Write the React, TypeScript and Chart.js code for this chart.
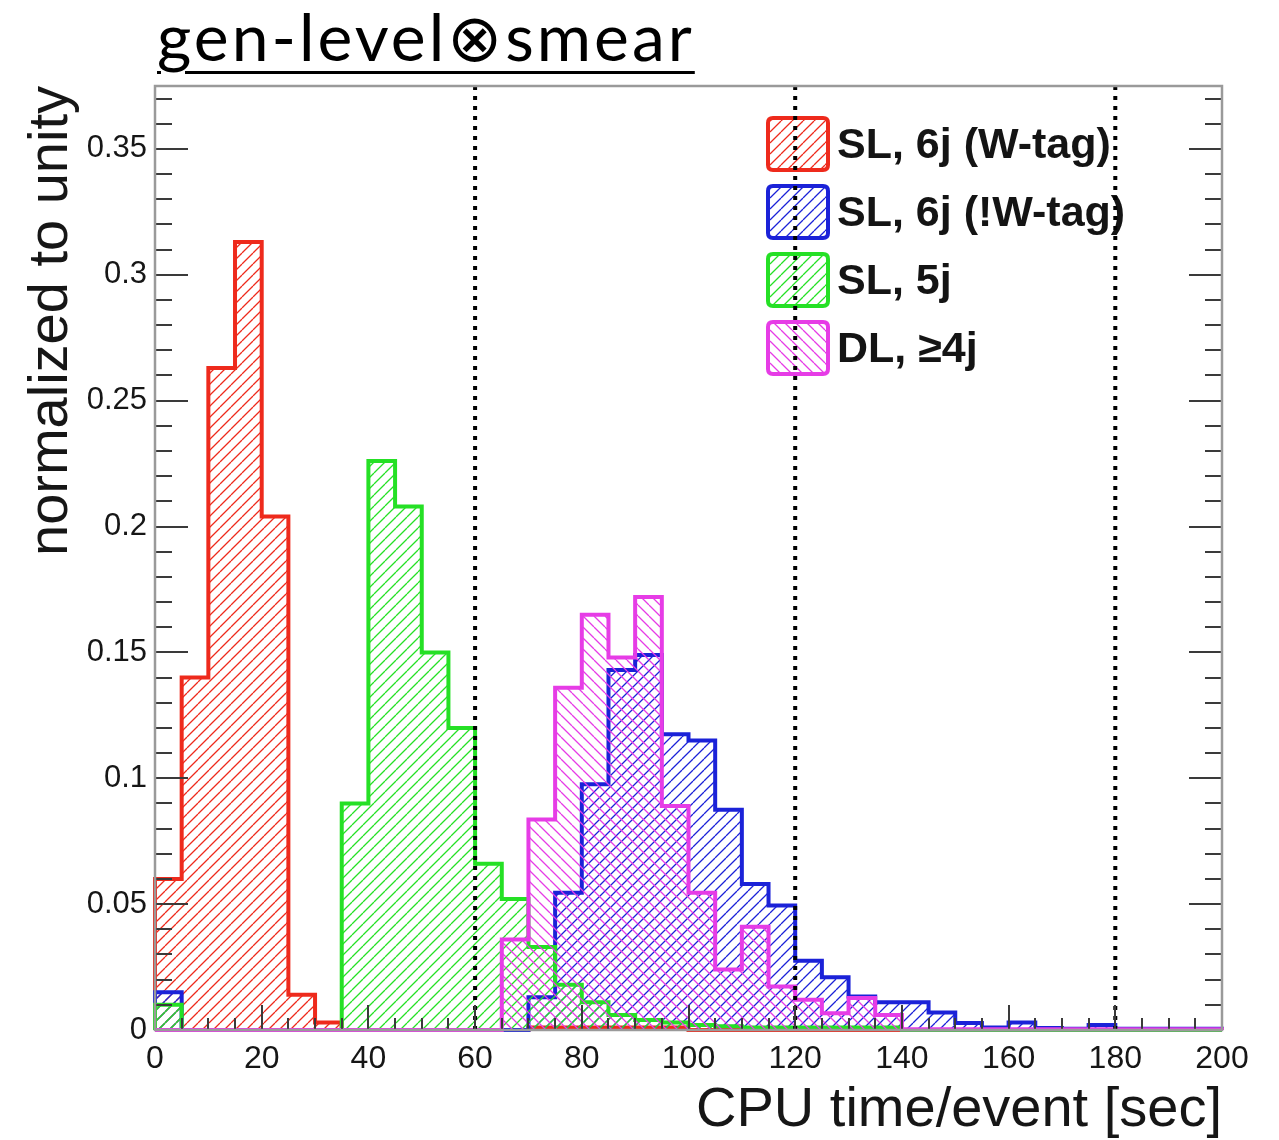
import React, { useEffect, useRef } from 'react';
import { Chart, registerables } from 'chart.js';

Chart.register(...registerables);

// ---- data ----
const BIN_WIDTH = 5;
const X_MIN = 0;
const X_MAX = 200;
const Y_MAX = 0.375;

const seriesLabels = ['SL, 6j (W-tag)', 'SL, 6j (!W-tag)', 'SL, 5j', 'DL, \u22654j'];
const seriesColors = ['#ee2a1c', '#1b22d8', '#25e025', '#e63ce6'];
const hatchDirs = ['/', '/', '/', '\\'];

// 40 bins of 5 s each, 0..200
const sl6jWtag = [
  0.06, 0.14, 0.263, 0.313, 0.204, 0.014, 0.003, 0, 0, 0,
  0, 0, 0, 0, 0.001, 0.001, 0.001, 0.001, 0.001, 0.001,
  0, 0, 0, 0, 0, 0, 0, 0, 0, 0,
  0, 0, 0, 0, 0, 0, 0, 0, 0, 0,
];
const sl6jNoWtag = [
  0.015, 0, 0, 0, 0, 0, 0, 0, 0, 0,
  0, 0, 0, 0, 0.013, 0.0545, 0.0976, 0.143, 0.149, 0.1175,
  0.115, 0.0875, 0.058, 0.0495, 0.0275, 0.021, 0.0133, 0.011, 0.011, 0.007,
  0.0028, 0.001, 0.003, 0.0008, 0.0005, 0.002, 0.0005, 0.0005, 0.0005, 0.0005,
];
const sl5j = [
  0.01, 0, 0, 0, 0, 0, 0, 0.09, 0.226, 0.208,
  0.15, 0.12, 0.066, 0.052, 0.033, 0.018, 0.011, 0.006, 0.004, 0.003,
  0.002, 0.0015, 0.001, 0.001, 0.001, 0.001, 0.001, 0.001, 0, 0,
  0, 0, 0, 0, 0, 0, 0, 0, 0, 0,
];
const dl4j = [
  0, 0, 0, 0, 0, 0, 0, 0, 0, 0,
  0, 0, 0, 0.036, 0.0836, 0.136, 0.165, 0.148, 0.172, 0.089,
  0.0545, 0.024, 0.041, 0.0173, 0.012, 0.0067, 0.0127, 0.006, 0.0003, 0.0003,
  0.0003, 0.0003, 0.0003, 0.0003, 0.0003, 0.0003, 0.0003, 0.0003, 0.0003, 0.0003,
];
const seriesValues = [sl6jWtag, sl6jNoWtag, sl5j, dl4j];

const cutLines = [60, 120, 180];
const xTickValues = [0, 20, 40, 60, 80, 100, 120, 140, 160, 180, 200];
const yTickValues = [0, 0.05, 0.1, 0.15, 0.2, 0.25, 0.3, 0.35];
const yTickLabels = ['0', '0.05', '0.1', '0.15', '0.2', '0.25', '0.3', '0.35'];
const X_MINOR_STEP = 5;
const Y_MINOR_STEP = 0.01;

const FONT = "'Liberation Sans', Arial, Helvetica, sans-serif";

function makeHatch(color: string, dir: string, size = 11, lw = 1.3) {
  const c = document.createElement('canvas');
  c.width = size;
  c.height = size;
  const g = c.getContext('2d')!;
  g.strokeStyle = color;
  g.lineWidth = lw;
  g.beginPath();
  for (let k = -1; k <= 1; k++) {
    if (dir === '/') {
      g.moveTo(k * size, size);
      g.lineTo(k * size + size, 0);
    } else {
      g.moveTo(k * size, 0);
      g.lineTo(k * size + size, size);
    }
  }
  g.stroke();
  return g.createPattern(c, 'repeat')!;
}

function histPoints(values: number[]) {
  const pts: { x: number; y: number }[] = [{ x: X_MIN, y: 0 }];
  values.forEach((v, i) => pts.push({ x: X_MIN + i * BIN_WIDTH, y: v }));
  pts.push({ x: X_MAX, y: values[values.length - 1] });
  pts.push({ x: X_MAX, y: 0 });
  return pts;
}

const frameTicksPlugin = {
  id: 'frameTicks',
  afterDatasetsDraw(chart: any) {
    const { ctx, chartArea: a, scales } = chart;
    const xs = scales.x;
    const ys = scales.y;
    ctx.save();
    ctx.strokeStyle = '#3a3a3a';
    ctx.lineWidth = 2;
    ctx.beginPath();
    for (let v = X_MIN; v <= X_MAX + 1e-9; v += X_MINOR_STEP) {
      const px = Math.round(xs.getPixelForValue(v));
      const major = xTickValues.some((t) => Math.abs(t - v) < 1e-6);
      const len = major ? 25 : 12;
      ctx.moveTo(px, a.bottom);
      ctx.lineTo(px, a.bottom - len);
    }
    const nMinor = Math.floor(Y_MAX / Y_MINOR_STEP + 1e-9);
    for (let k = 0; k <= nMinor; k++) {
      const v = k * Y_MINOR_STEP;
      const py = Math.round(ys.getPixelForValue(v));
      const major = yTickValues.some((t) => Math.abs(t - v) < 1e-6);
      const len = major ? 33 : 17;
      ctx.moveTo(a.left, py);
      ctx.lineTo(a.left + len, py);
      ctx.moveTo(a.right, py);
      ctx.lineTo(a.right - len, py);
    }
    ctx.stroke();
    ctx.strokeStyle = '#9a9a9a';
    ctx.lineWidth = 2.5;
    ctx.strokeRect(a.left, a.top, a.right - a.left, a.bottom - a.top);
    ctx.restore();
  },
};

const legendPlugin = {
  id: 'rootLegend',
  beforeDatasetsDraw(chart: any) {
    const { ctx, chartArea: a } = chart;
    const boxW = 60;
    const boxH = 52;
    const gap = 68;
    const left = a.right - 454;
    const top0 = a.top + 32;
    ctx.save();
    seriesLabels.forEach((label, i) => {
      const top = top0 + i * gap;
      const pat = makeHatch(seriesColors[i], hatchDirs[i]);
      ctx.beginPath();
      const r = 5;
      ctx.moveTo(left + r, top);
      ctx.lineTo(left + boxW - r, top);
      ctx.quadraticCurveTo(left + boxW, top, left + boxW, top + r);
      ctx.lineTo(left + boxW, top + boxH - r);
      ctx.quadraticCurveTo(left + boxW, top + boxH, left + boxW - r, top + boxH);
      ctx.lineTo(left + r, top + boxH);
      ctx.quadraticCurveTo(left, top + boxH, left, top + boxH - r);
      ctx.lineTo(left, top + r);
      ctx.quadraticCurveTo(left, top, left + r, top);
      ctx.closePath();
      ctx.fillStyle = pat;
      ctx.fill();
      ctx.strokeStyle = seriesColors[i];
      ctx.lineWidth = 4;
      ctx.stroke();
      ctx.fillStyle = '#141414';
      ctx.font = `bold 43px ${FONT}`;
      ctx.textAlign = 'left';
      ctx.textBaseline = 'middle';
      ctx.fillText(label, left + boxW + 9, top + boxH / 2 + 2);
    });
    ctx.restore();
  },
};

export default function App() {
  const canvasRef = useRef<HTMLCanvasElement | null>(null);

  useEffect(() => {
    const canvas = canvasRef.current;
    if (!canvas) return;
    const n = seriesLabels.length;
    const histDatasets = seriesValues.map((vals, i) => ({
      type: 'line' as const,
      label: seriesLabels[i],
      data: histPoints(vals),
      stepped: 'before' as const,
      borderColor: seriesColors[i],
      borderWidth: 4,
      borderJoinStyle: 'miter' as const,
      backgroundColor: makeHatch(seriesColors[i], hatchDirs[i]),
      fill: 'origin',
      pointRadius: 0,
      tension: 0,
      clip: 6,
      order: n - i,
    }));
    const cutDatasets = cutLines.map((x) => ({
      type: 'line' as const,
      label: `cut ${x}`,
      data: [
        { x, y: 0 },
        { x, y: Y_MAX },
      ],
      borderColor: '#000000',
      borderWidth: 4,
      borderDash: [4, 6],
      fill: false,
      pointRadius: 0,
      order: 0,
    }));

    const chart = new Chart(canvas, {
      type: 'line',
      data: { datasets: [...histDatasets, ...cutDatasets] as any },
      options: {
        responsive: false,
        animation: false,
        devicePixelRatio: 1,
        layout: { padding: { top: 86, right: 57, left: 0, bottom: 0 } },
        plugins: {
          legend: { display: false },
          tooltip: { enabled: false },
        },
        scales: {
          x: {
            type: 'linear',
            min: X_MIN,
            max: X_MAX,
            afterFit: (s: any) => {
              s.height = 110;
            },
            afterBuildTicks: (s: any) => {
              s.ticks = xTickValues.map((v) => ({ value: v }));
            },
            grid: { display: false },
            border: { display: false },
            ticks: {
              autoSkip: false,
              maxRotation: 0,
              padding: 2,
              color: '#161616',
              font: { size: 32, family: FONT },
              callback: (v: any) => String(v),
            },
            title: {
              display: true,
              text: 'CPU time/event [sec]',
              align: 'end',
              color: '#161616',
              font: { size: 56, family: FONT, lineHeight: 1 },
              padding: { top: 0, bottom: 1 },
            },
          },
          y: {
            type: 'linear',
            min: 0,
            max: Y_MAX,
            afterFit: (s: any) => {
              s.width = 155;
            },
            afterBuildTicks: (s: any) => {
              s.ticks = yTickValues.map((v) => ({ value: v }));
            },
            grid: { display: false },
            border: { display: false },
            ticks: {
              padding: 0,
              color: '#161616',
              font: { size: 31, family: FONT },
              callback: (v: any) => {
                const idx = yTickValues.findIndex((t) => Math.abs(t - v) < 1e-6);
                return idx >= 0 ? yTickLabels[idx] : '';
              },
            },
            title: {
              display: true,
              text: 'normalized to unity',
              align: 'end',
              color: '#161616',
              font: { size: 56, family: FONT, lineHeight: 1 },
              padding: { top: 24, bottom: 0 },
            },
          },
        },
      },
      plugins: [legendPlugin, frameTicksPlugin],
    });
    return () => chart.destroy();
  }, []);

  return (
    <div style={{ position: 'absolute', left: 0, top: 0, width: 1279, height: 1140, background: '#fff' }}>
      <div
        style={{
          position: 'absolute',
          left: 157,
          top: 3,
          fontFamily: "Lato, 'Open Sans', sans-serif",
          fontSize: 66,
          lineHeight: 1,
          letterSpacing: 3,
          color: '#000',
          textDecoration: 'underline',
          textDecorationThickness: 3,
          textUnderlineOffset: 10,
          whiteSpace: 'nowrap',
        }}
      >
        gen-level⊗smear
      </div>
      <canvas
        ref={canvasRef}
        width={1279}
        height={1140}
        style={{ position: 'absolute', left: 0, top: 0, width: 1279, height: 1140 }}
      />
    </div>
  );
}
